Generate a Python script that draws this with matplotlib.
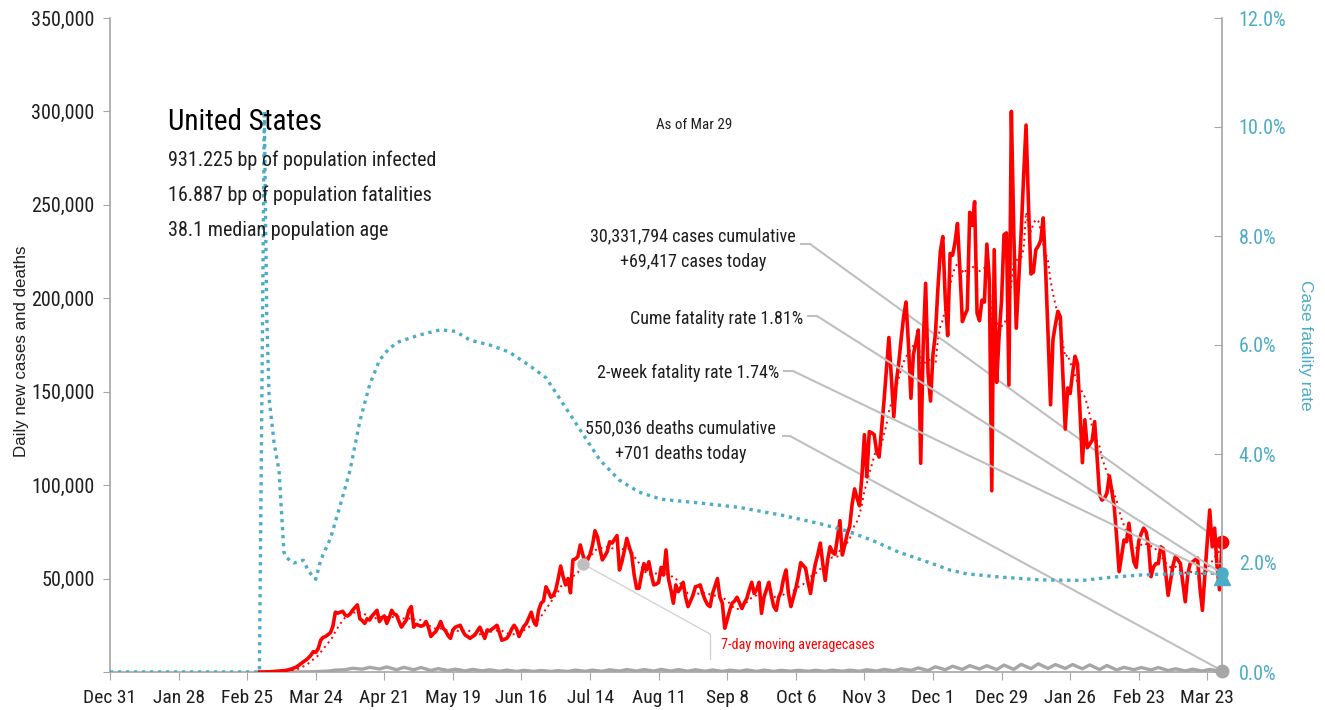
import numpy as np
import pandas as pd
import matplotlib
matplotlib.use("Agg")
import matplotlib.pyplot as plt
from matplotlib import font_manager as fm
from matplotlib.lines import Line2D
from matplotlib.ticker import FuncFormatter, MultipleLocator

# pick a narrow face if one is installed, plain sans otherwise
have = {f.name for f in fm.fontManager.ttflist}
NARROW_FACE = next((n for n in ["Roboto Condensed", "Archivo Narrow", "PT Sans Narrow",
                                "Liberation Sans Narrow"] if n in have), "DejaVu Sans")
NARROW = [NARROW_FACE, "DejaVu Sans"]
REGULAR = ["Liberation Sans", "DejaVu Sans"]
plt.rcParams["font.family"] = NARROW

RED = "#FF0000"
TEAL = "#4BACC6"
GREY = "#A6A6A6"
LEAD = "#BFBFBF"
INK = "#1E1E1E"

# daily new cases (thousands), Mar 1 2020 .. Mar 29 2021, one row per week
cases_k = [
    0, 0, 0, 0.1, 0.1, 0.2, 0.3,
    0.4, 0.5, 0.6, 0.7, 0.9, 1.2, 1.6,
    2.1, 2.6, 3.5, 4.5, 5.5, 6.4, 7.5,
    9.0, 10.9, 10.5, 12.5, 17.0, 18.5, 19.0,
    20.0, 21.0, 24.5, 32.0, 31.5, 32.0, 32.5,
    30.5, 30.0, 31.0, 33.0, 34.5, 35.9, 28.5,
    27.5, 26.0, 28.5, 27.8, 30.0, 31.5, 33.0,
    27.0, 29.0, 30.0, 26.0, 29.0, 33.0, 31.0,
    30.5, 27.0, 24.0, 26.0, 27.8, 33.0, 35.0,
    24.0, 25.5, 25.0, 24.5, 25.0, 27.0, 24.0,
    19.0, 20.5, 21.6, 24.0, 27.0, 23.4, 22.0,
    19.5, 18.0, 22.5, 24.0, 24.5, 25.0, 22.0,
    19.8, 19.0, 18.0, 19.0, 19.8, 22.0, 24.0,
    21.0, 18.0, 22.5, 22.0, 23.0, 24.0, 25.0,
    21.0, 17.0, 17.5, 18.0, 20.0, 23.0, 25.0,
    23.0, 19.0, 22.0, 24.5, 26.0, 29.0, 32.0,
    27.0, 25.0, 33.0, 36.8, 38.0, 45.6, 43.0,
    40.0, 41.0, 44.0, 50.0, 56.7, 51.0, 46.6,
    50.0, 42.4, 60.0, 60.5, 61.7, 68.0, 63.0,
    58.5, 60.0, 63.0, 68.0, 75.6, 72.4, 66.0,
    60.0, 62.0, 64.4, 69.7, 69.0, 71.0, 73.0,
    54.6, 59.0, 65.0, 71.5, 67.0, 62.6, 52.0,
    44.8, 44.8, 52.0, 58.0, 54.6, 59.0, 52.0,
    46.6, 47.0, 48.0, 56.0, 51.9, 65.3, 50.0,
    44.0, 36.8, 46.6, 43.0, 45.0, 48.0, 40.0,
    35.0, 38.0, 41.0, 45.6, 46.0, 46.6, 42.0,
    38.5, 36.0, 35.0, 42.0, 46.0, 50.0, 40.0,
    36.8, 23.4, 28.0, 33.0, 36.8, 38.0, 40.0,
    37.0, 34.0, 37.0, 39.4, 44.0, 48.0, 42.0,
    44.0, 48.0, 31.4, 40.0, 44.0, 48.0, 41.0,
    35.0, 33.0, 40.0, 43.0, 50.0, 54.6, 42.0,
    35.0, 40.0, 44.8, 51.0, 58.5, 57.0, 55.5,
    48.0, 42.0, 51.0, 58.0, 63.0, 69.0, 58.0,
    49.0, 60.0, 67.0, 64.0, 63.0, 72.0, 81.0,
    62.6, 68.0, 74.0, 78.0, 90.0, 98.0, 93.0,
    89.0, 105.0, 127.0, 104.5, 128.6, 128.0, 127.0,
    118.0, 115.0, 130.0, 145.0, 162.0, 179.0, 158.0,
    136.6, 155.0, 165.0, 178.0, 190.0, 198.0, 175.0,
    146.5, 170.0, 176.0, 183.0, 111.7, 175.0, 208.0,
    160.0, 145.0, 170.0, 181.0, 205.0, 225.0, 233.0,
    200.0, 180.0, 224.0, 223.0, 230.0, 240.0, 215.0,
    187.5, 191.0, 194.0, 246.0, 239.0, 251.7, 192.0,
    188.0, 199.0, 198.0, 229.0, 210.0, 97.0, 226.0,
    155.0, 180.0, 199.0, 234.0, 235.0, 153.6, 300.0,
    235.0, 184.0, 210.0, 235.0, 265.0, 292.7, 250.0,
    213.0, 214.0, 226.0, 228.0, 231.0, 243.0, 215.0,
    180.0, 143.0, 178.0, 186.0, 193.0, 190.0, 160.0,
    130.0, 152.0, 149.0, 160.0, 169.0, 165.0, 140.0,
    112.0, 135.0, 120.0, 122.0, 124.0, 134.0, 115.0,
    95.0, 92.0, 93.0, 95.6, 105.0, 97.0, 88.5,
    72.0, 53.7, 62.0, 70.6, 69.7, 79.6, 68.0,
    59.0, 56.0, 70.0, 74.0, 77.0, 75.0, 68.0,
    51.0, 56.0, 58.0, 58.0, 67.0, 66.0, 53.0,
    41.0, 49.0, 57.0, 62.0, 60.0, 58.0, 48.0,
    37.6, 52.0, 58.0, 59.0, 60.0, 61.0, 45.0,
    33.0, 52.0, 70.0, 86.7, 67.0, 77.0, 56.0,
    44.0, 69.4,
]

# daily deaths (thousands): weekly low (Sunday) and high (Wednesday) readings
deaths_lo = [0, 0, 0.02, 0.1, 0.5, 1.2, 1.5, 1.6, 1.2, 1.2,
             0.8, 0.8, 0.6, 0.6, 0.4, 0.3, 0.3, 0.3, 0.3, 0.4,
             0.4, 0.5, 0.5, 0.5, 0.5, 0.4, 0.4, 0.3, 0.4, 0.3,
             0.3, 0.4, 0.4, 0.4, 0.4, 0.4, 0.5, 0.6, 0.9, 0.8,
             1.2, 1.4, 1.6, 1.3, 1.4, 1.8, 1.9, 1.9, 1.7, 1.3,
             1.1, 1.2, 1.1, 0.8, 0.6, 0.5, 0.5]
deaths_hi = [0, 0.01, 0.06, 0.25, 1.0, 2.0, 2.5, 2.7, 2.5, 2.4,
             1.8, 1.5, 1.4, 1.2, 1.0, 0.9, 0.8, 0.7, 1.0, 1.0,
             1.2, 1.3, 1.3, 1.4, 1.3, 1.2, 1.1, 1.0, 1.1, 1.0,
             0.9, 0.9, 0.9, 1.0, 1.0, 1.2, 1.4, 1.7, 2.2, 2.8,
             3.1, 3.4, 3.4, 3.7, 4.1, 4.4, 4.0, 4.0, 3.8, 3.5,
             2.5, 2.4, 2.4, 1.7, 1.5, 1.4]

# case fatality rate (%) read at these day offsets from Dec 31 2019
cfr_day = [0, 61, 62, 63, 64, 65, 67, 69, 71, 72, 75, 79, 81, 84, 86, 90,
           94, 98, 102, 106, 110, 114, 118, 126, 135, 141, 147, 155, 163,
           171, 178, 184, 192, 200, 208, 216, 225, 241, 257, 274, 290, 300,
           311, 322, 335, 343, 350, 364, 380, 397, 409, 421, 438, 454]
cfr_pct = [0, 0, 5.0, 10.3, 6.5, 5.0, 4.2, 3.7, 2.2, 2.1, 2.0, 2.05, 1.85,
           1.7, 2.05, 2.45, 3.06, 3.7, 4.6, 5.27, 5.72, 5.94, 6.06, 6.18,
           6.28, 6.25, 6.09, 6.0, 5.87, 5.63, 5.4, 4.99, 4.44, 3.89, 3.52,
           3.3, 3.17, 3.1, 3.02, 2.88, 2.72, 2.6, 2.42, 2.2, 2.0, 1.87, 1.8,
           1.74, 1.69, 1.68, 1.74, 1.78, 1.81, 1.81]

country = "United States"
infected_bp = 931.225
fatal_bp = 16.887
median_age = 38.1
cases_cum = 30331794
cases_today = 69417
deaths_cum = 550036
deaths_today = 701
cume_cfr = 1.81
twoweek_cfr = 1.74

start = pd.Timestamp("2019-12-31")
last = pd.Timestamp("2021-03-29")

case_dates = pd.date_range("2020-03-01", periods=len(cases_k), freq="D")
cases = np.array(cases_k) * 1000
ma7 = pd.Series(cases).rolling(7).mean().values

wk = pd.date_range("2020-03-01", periods=len(deaths_lo), freq="7D")
death_dates, deaths = [], []
for i in range(len(deaths_lo)):
    death_dates.append(wk[i])
    deaths.append(deaths_lo[i] * 1000)
    if i < len(deaths_hi):
        death_dates.append(wk[i] + pd.Timedelta(days=3))
        deaths.append(deaths_hi[i] * 1000)
death_dates.append(last)
deaths.append(deaths_today)

cfr_dates = [start + pd.Timedelta(days=d) for d in cfr_day]

W, H = 1325, 710
fig = plt.figure(figsize=(W / 100, H / 100), dpi=100)
ax = fig.add_axes([110 / W, 38 / H, 1112 / W, 654 / H])
ax2 = ax.twinx()


def fx(px):
    return px / W


def fy(py):
    return 1 - py / H


ax.plot(death_dates, deaths, color=GREY, lw=2.4, zorder=2)
ax.plot(case_dates, ma7, color=RED, lw=1.4, ls=(0, (1, 2)), zorder=3)
ax.plot(case_dates, cases, color=RED, lw=2.6, zorder=4)
ax2.plot(cfr_dates, cfr_pct, color=TEAL, lw=2.4, ls=(0, (1, 1.4)), zorder=3)

# end-of-series markers
ax.plot([last], [cases_today], "o", color=RED, ms=9, clip_on=False, zorder=6)
ax.plot([last], [deaths_today], "o", color=GREY, ms=9, clip_on=False, zorder=6)
ax2.plot([last], [cume_cfr], "o", color=TEAL, ms=8, clip_on=False, zorder=6)
ax2.plot([last], [twoweek_cfr], "^", color=TEAL, ms=11, clip_on=False, zorder=6)

# axes
ax.set_xlim(start, last)
ax.set_ylim(0, 350000)
ax2.set_ylim(0, 12)
ax.yaxis.set_major_locator(MultipleLocator(50000))
ax.yaxis.set_major_formatter(FuncFormatter(lambda v, p: "" if v == 0 else f"{v:,.0f}"))
ax2.yaxis.set_major_locator(MultipleLocator(2))
ax2.yaxis.set_major_formatter(FuncFormatter(lambda v, p: f"{v:.1f}%"))
xt = pd.date_range(start, last, freq="28D")
ax.set_xticks(xt)
ax.set_xticklabels([f"{d:%b} {d.day}" for d in xt])

for s in ["top", "right"]:
    ax.spines[s].set_visible(False)
for s in ["top", "left", "bottom"]:
    ax2.spines[s].set_visible(False)
for s in ["left", "bottom"]:
    ax.spines[s].set_color(GREY)
    ax.spines[s].set_linewidth(1.2)
ax2.spines["right"].set_color(GREY)
ax2.spines["right"].set_linewidth(1.2)

ax.tick_params(axis="y", direction="out", length=5, color=GREY, labelsize=14.5,
               labelcolor=INK, pad=6)
ax.tick_params(axis="x", direction="out", length=6, color=GREY, labelsize=14,
               labelcolor=INK, pad=6)
ax2.tick_params(axis="y", direction="in", length=6, color=GREY, labelsize=14.5,
                labelcolor=TEAL, pad=12)

fig.text(fx(22), fy(351), "Daily new cases and deaths", rotation=90, ha="center",
         va="center", fontsize=12.2, color=INK, family=REGULAR)
fig.text(fx(1305), fy(345), "Case fatality rate", rotation=270, ha="center",
         va="center", fontsize=12.5, color=TEAL, family=REGULAR)

# title block
fig.text(fx(168), fy(130), country, fontsize=21, color="black", va="baseline")
fig.text(fx(168), fy(166), f"{infected_bp:.3f} bp of population infected",
         fontsize=14.5, color=INK, va="baseline")
fig.text(fx(168), fy(201), f"{fatal_bp:.3f} bp of population fatalities",
         fontsize=14.5, color=INK, va="baseline")
fig.text(fx(168), fy(236), f"{median_age:.1f} median population age",
         fontsize=14.5, color=INK, va="baseline")
fig.text(fx(694), fy(129), f"As of {last:%b} {last.day}", fontsize=10.8,
         color=INK, ha="center", va="baseline")

# callouts on the right
fig.text(fx(693), fy(241), f"{cases_cum:,} cases cumulative", fontsize=13,
         color=INK, ha="center", va="baseline")
fig.text(fx(693), fy(267), f"+{cases_today:,} cases today", fontsize=13,
         color=INK, ha="center", va="baseline")
fig.text(fx(803), fy(324), f"Cume fatality rate {cume_cfr:.2f}%", fontsize=13,
         color=INK, ha="right", va="baseline")
fig.text(fx(779), fy(378), f"2-week fatality rate {twoweek_cfr:.2f}%", fontsize=13,
         color=INK, ha="right", va="baseline")
fig.text(fx(680), fy(433), f"{deaths_cum:,} deaths cumulative", fontsize=13,
         color=INK, ha="center", va="baseline")
fig.text(fx(681), fy(459), f"+{deaths_today:,} deaths today", fontsize=13,
         color=INK, ha="center", va="baseline")

leaders = [
    (ax, cases_today, 801, 810, 244),
    (ax2, cume_cfr, 808, 817, 316),
    (ax2, twoweek_cfr, 784, 793, 371),
    (ax, deaths_today, 783, 790, 436),
]
for a, val, x0, x1, yy in leaders:
    fig.add_artist(Line2D([fx(x0), fx(x1)], [fy(yy), fy(yy)], color=LEAD, lw=1.5,
                          transform=fig.transFigure))
    a.annotate("", xy=(last, val), xycoords="data", xytext=(fx(x1), fy(yy)),
               textcoords="figure fraction", annotation_clip=False,
               arrowprops=dict(arrowstyle="-", color=LEAD, lw=1.5,
                               shrinkA=0, shrinkB=0))

# moving-average label
ma_pick = pd.Timestamp("2020-07-11")
k = list(case_dates).index(ma_pick)
ax.plot([ma_pick], [ma7[k]], "o", color=LEAD, ms=8, zorder=5)
ax.annotate("", xy=(ma_pick, ma7[k]), xycoords="data", xytext=(fx(710), fy(634)),
            textcoords="figure fraction", annotation_clip=False,
            arrowprops=dict(arrowstyle="-", color="#CFCFCF", lw=0.9,
                            shrinkA=0, shrinkB=0))
fig.add_artist(Line2D([fx(710), fx(710)], [fy(634), fy(659)], color="#CFCFCF",
                      lw=0.9, transform=fig.transFigure))
fig.text(fx(721), fy(645), "7-day moving averagecases", fontsize=10.2, color=RED,
         ha="left", va="center")

fig.savefig("out.png", dpi=100)
